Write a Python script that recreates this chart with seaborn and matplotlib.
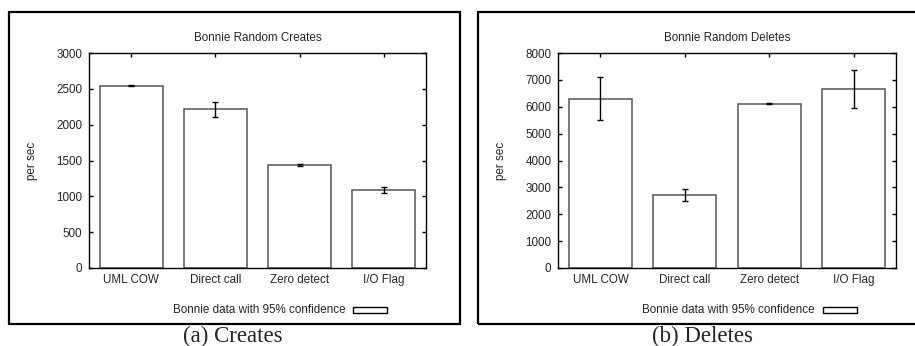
import numpy as np
import matplotlib
matplotlib.use("Agg")
import matplotlib.pyplot as plt
from matplotlib.patches import Rectangle
import seaborn as sns

categories = ["UML COW", "Direct call", "Zero detect", "I/O Flag"]

creates = [2545, 2220, 1437, 1088]
creates_lo = [2535, 2110, 1427, 1047]
creates_hi = [2555, 2318, 1447, 1132]

deletes = [6290, 2710, 6120, 6670]
deletes_lo = [5490, 2500, 6100, 5960]
deletes_hi = [7100, 2940, 6140, 7370]

titles = ["Bonnie Random Creates", "Bonnie Random Deletes"]
captions = ["(a) Creates", "(b) Deletes"]
ylabel = "per sec"
legend_label = "Bonnie data with 95% confidence"
yticks_c = list(range(0, 3001, 500))
yticks_d = list(range(0, 8001, 1000))

sns.set_style("ticks")
plt.rcParams["font.family"] = ["Liberation Sans", "DejaVu Sans"]

W, H = 915, 346
fig = plt.figure(figsize=(W / 100, H / 100), dpi=100)

def fx(px):
    return px / W

def fy(py):
    return 1 - py / H

panels = [
    dict(x0=89, x1=426, vals=creates, lo=creates_lo, hi=creates_hi, yt=yticks_c,
         frame=(8.5, 459.5), cap_x=233, leg_text_r=345.5, leg_box=(353, 387)),
    dict(x0=558.3, x1=895.7, vals=deletes, lo=deletes_lo, hi=deletes_hi, yt=yticks_d,
         frame=(478, 930), cap_x=702, leg_text_r=815, leg_box=(822.7, 856.7)),
]

top, bot = 53, 268
fs = 8.4
for i, p in enumerate(panels):
    ax = fig.add_axes([fx(p["x0"]), fy(bot), fx(p["x1"] - p["x0"]), (bot - top) / H])
    vals = np.array(p["vals"], dtype=float)
    lo = np.array(p["lo"], dtype=float)
    hi = np.array(p["hi"], dtype=float)
    sns.barplot(x=categories, y=vals, ax=ax, color="white", edgecolor="#555555",
                linewidth=1.1, width=0.75, errorbar=None, saturation=1)
    ax.errorbar(np.arange(len(categories)), vals, yerr=[vals - lo, hi - vals],
                fmt="none", ecolor="black", elinewidth=1.0, capsize=2.0, capthick=1.0)
    ax.set_xlim(-0.5, len(categories) - 0.5)
    ax.set_ylim(p["yt"][0], p["yt"][-1])
    ax.set_yticks(p["yt"])
    ax.set_yticklabels([str(v) for v in p["yt"]])
    ax.tick_params(axis="both", direction="in", length=3, width=1, color="black",
                   labelsize=fs, top=True, right=True)
    ax.tick_params(axis="y", pad=5)
    ax.tick_params(axis="x", pad=4)
    for s in ax.spines.values():
        s.set_visible(True)
        s.set_color("black")
        s.set_linewidth(1.0)
    ax.set_xlabel("")
    ax.set_ylabel(ylabel, fontsize=fs)
    ax.yaxis.set_label_coords(-0.152, 0.5)
    ax.set_title(titles[i], fontsize=fs, pad=8.5)

    # outer frame
    fl, fr = p["frame"]
    fig.add_artist(Rectangle((fx(fl), fy(324)), fx(fr - fl), (324 - 12) / H,
                             transform=fig.transFigure, fill=False,
                             edgecolor="black", linewidth=1.6, clip_on=False))
    # legend
    fig.text(fx(p["leg_text_r"]), fy(310), legend_label, ha="right", va="center",
             fontsize=fs)
    b0, b1 = p["leg_box"]
    fig.add_artist(Rectangle((fx(b0), fy(313)), fx(b1 - b0), 6 / H,
                             transform=fig.transFigure, facecolor="white",
                             edgecolor="black", linewidth=1.0))
    # caption
    fig.text(fx(p["cap_x"]), fy(342), captions[i], ha="center", va="baseline",
             fontsize=16.5, family=["Liberation Serif", "DejaVu Serif"])

fig.savefig("out.png", dpi=100)
